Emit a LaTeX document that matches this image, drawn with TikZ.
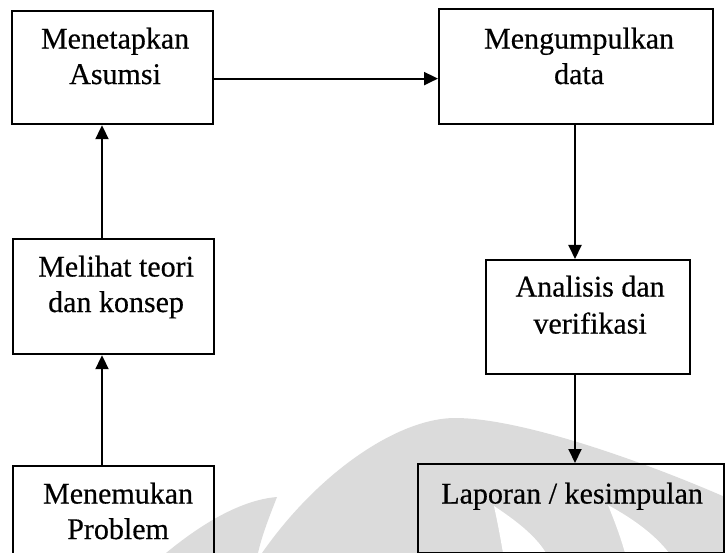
\documentclass[tikz,border=0pt]{standalone}
\usepackage{fontspec}
\setmainfont{Liberation Serif}
\newfontfamily\boxfont{Liberation Serif}[FakeBold=0.4]
\usetikzlibrary{arrows.meta}
\definecolor{markgray}{gray}{0.86}
\tikzset{
  stepbox/.style={draw, line width=2.2pt, rectangle, inner sep=0pt, anchor=north west},
  steptext/.style={anchor=north, inner sep=0pt, align=center, font=\boxfont\fontsize{30}{35.5}\selectfont},
  flow/.style={line width=2pt, -{Triangle[length=14pt,width=13pt]}},
}
\begin{document}
\begin{tikzpicture}[x=1pt,y=-1pt]
\useasboundingbox (0,0) rectangle (725,553);
\clip (0,0) rectangle (725,553);

% faint emblem in the background
\fill[markgray] (262,553) .. controls (320,470) and (400,418) .. (455,418)
  .. controls (520,418) and (640,460) .. (725,497) -- (725,553) -- cycle;
\fill[white] (494,506) .. controls (515,520) and (535,535) .. (546,553)
  -- (503,553) .. controls (500,535) and (497,520) .. cycle;
\fill[white] (608,505) .. controls (635,520) and (655,535) .. (669,553)
  -- (625,553) .. controls (620,535) and (614,520) .. cycle;
\fill[markgray] (166,553) .. controls (200,525) and (240,500) .. (277,497)
  .. controls (270,515) and (262,535) .. (258,553) -- cycle;

% column guides for the vertical connectors
\coordinate (lcol) at (102,0);
\coordinate (rcol) at (575,0);

% boxes
\node[stepbox, minimum width=201pt, minimum height=113pt] (asumsi)   at (11,10)  {};
\node[stepbox, minimum width=274pt, minimum height=115pt] (data)     at (438,8)  {};
\node[stepbox, minimum width=201pt, minimum height=115pt] (teori)    at (12,238) {};
\node[stepbox, minimum width=204pt, minimum height=114pt] (analisis) at (485,259) {};
\node[stepbox, minimum width=201pt, minimum height=100pt] (problem)  at (12,465) {};
\node[stepbox, minimum width=306pt, minimum height=89pt]  (laporan)  at (417,463) {};

% box texts
\node[steptext] (asumsi-t)   at ([xshift=2.5pt,yshift=-17.5pt]asumsi.north)   {Menetapkan\\Asumsi};
\node[steptext] (data-t)     at ([xshift=3pt,yshift=-19.5pt]data.north)       {Mengumpulkan\\data};
\node[steptext] (teori-t)    at ([xshift=2.5pt,yshift=-17.5pt]teori.north)    {Melihat teori\\dan konsep};
\node[steptext, font=\boxfont\fontsize{30}{37}\selectfont] (analisis-t) at ([xshift=2pt,yshift=-16.5pt]analisis.north) {Analisis dan\\verifikasi};
\node[steptext] (problem-t)  at ([xshift=4.5pt,yshift=-17.5pt]problem.north)  {Menemukan\\Problem};
\node[steptext] (laporan-t)  at ([xshift=1pt,yshift=-19.5pt]laporan.north)    {Laporan / kesimpulan};

% connectors
\draw[flow] (problem.north -| lcol) -- (teori.south -| lcol);
\draw[flow] (teori.north -| lcol) -- (asumsi.south -| lcol);
\draw[flow] ([yshift=-11pt]asumsi.east) -- ([yshift=-11pt]asumsi.east -| data.west);
\draw[flow] (data.south -| rcol) -- (analisis.north -| rcol);
\draw[flow] (analisis.south -| rcol) -- (laporan.north -| rcol);
\end{tikzpicture}
\end{document}
